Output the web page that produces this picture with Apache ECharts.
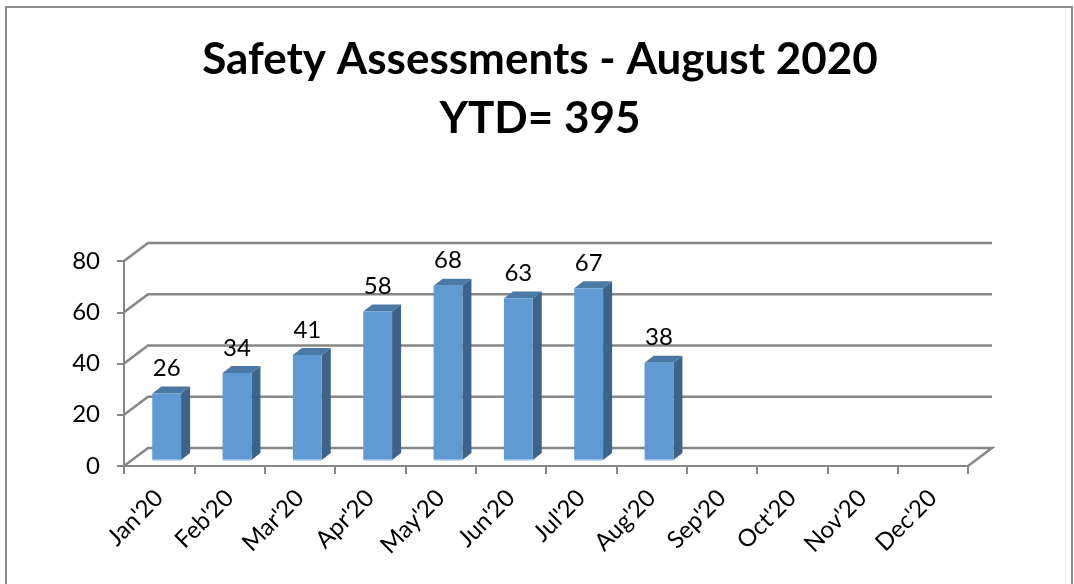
<!DOCTYPE html>
<html>
<head>
<meta charset="utf-8">
<style>
  html, body { margin: 0; padding: 0; background: #fff; overflow: hidden; }
  #chart { width: 1074px; height: 584px; }
</style>
<script src="https://cdn.jsdelivr.net/npm/echarts@6/dist/echarts.min.js"></script>
</head>
<body>
<div id="chart"></div>
<script>
const categories = ["Jan'20", "Feb'20", "Mar'20", "Apr'20", "May'20", "Jun'20", "Jul'20", "Aug'20", "Sep'20", "Oct'20", "Nov'20", "Dec'20"];
const assessments = [26, 34, 41, 58, 68, 63, 67, 38];
const yTicks = [0, 20, 40, 60, 80];
const titleText = "Safety Assessments - August 2020\nYTD= 395";

const lineColor = "#868686";
const fontName = "Lato";
// fake 3d depth of the back wall and of the bars
const wallDx = 24, wallDy = -18;
const barDx = 9, barDy = -7;
const barShiftX = 7.5, barShiftY = -6;

function renderWall(params, api) {
  const rect = params.coordSys;
  const y = api.coord([0, api.value(0)])[1];
  const x0 = rect.x, x1 = rect.x + rect.width;
  const points = [[x0, y], [x0 + wallDx, y + wallDy], [x1 + wallDx, y + wallDy]];
  if (api.value(0) === 0) points.push([x1, y]);
  return {
    type: "polyline",
    shape: { points: points },
    style: { stroke: lineColor, lineWidth: 2.5, fill: "none" },
    silent: true
  };
}

function renderBar(params, api) {
  const c = api.coord([api.value(0), api.value(1)]);
  const base = api.coord([api.value(0), 0]);
  const w = api.size([1, 0])[0] * 0.41;
  const l = c[0] + barShiftX - w / 2, r = l + w;
  const t = c[1] + barShiftY, b = base[1] + barShiftY;
  return {
    type: "group",
    children: [
      {
        type: "polygon",
        shape: { points: [[r, t], [r + barDx, t + barDy], [r + barDx, b + barDy], [r, b]] },
        style: { fill: "#3d6389" }
      },
      {
        type: "polygon",
        shape: { points: [[l, t], [r, t], [r + barDx, t + barDy], [l + barDx, t + barDy]] },
        style: { fill: "#4a79a6" }
      },
      {
        type: "rect",
        shape: { x: l, y: t, width: w, height: b - t },
        style: { fill: "#5f9bd2" }
      },
      {
        type: "line",
        shape: { x1: l, y1: b, x2: r, y2: b },
        style: { stroke: "#a9cdee", lineWidth: 1.5 }
      },
      {
        type: "text",
        style: {
          x: (l + r) / 2, y: t - 25,
          text: String(api.value(1)),
          fill: "#000", font: "24px " + fontName,
          align: "center", verticalAlign: "middle"
        }
      }
    ]
  };
}

const chart = echarts.init(document.getElementById("chart"), null, { renderer: "canvas" });
chart.setOption({
  animation: false,
  backgroundColor: "#fff",
  title: {
    text: titleText,
    left: 535,
    top: 25,
    textAlign: "center",
    textStyle: { fontFamily: fontName, fontWeight: "bold", fontSize: 44, lineHeight: 59, color: "#000" }
  },
  graphic: [{
    type: "rect",
    shape: { x: 6, y: 7, width: 1066, height: 600 },
    style: { fill: "none", stroke: "#8c8c8c", lineWidth: 2 },
    silent: true
  }],
  grid: { left: 124, top: 261, width: 844, height: 205 },
  xAxis: {
    type: "category",
    data: categories,
    axisLine: { lineStyle: { color: lineColor, width: 2 } },
    axisTick: { show: true, length: 8, lineStyle: { color: lineColor, width: 2 } },
    axisLabel: {
      rotate: 45, interval: 0, margin: 28,
      fontFamily: fontName, fontSize: 24, color: "#000"
    },
    splitLine: { show: false }
  },
  yAxis: {
    type: "value",
    min: 0,
    max: 80,
    interval: 20,
    axisLine: { show: true, lineStyle: { color: lineColor, width: 2 } },
    axisTick: { show: true, length: 7, lineStyle: { color: lineColor, width: 2 } },
    axisLabel: { margin: 24, padding: [8, 0, 0, 0], fontFamily: fontName, fontSize: 24, color: "#000" },
    splitLine: { show: false }
  },
  series: [
    {
      type: "custom",
      renderItem: renderWall,
      data: yTicks.map(v => [v]),
      encode: { y: 0 },
      silent: true,
      z: 1
    },
    {
      type: "custom",
      renderItem: renderBar,
      data: assessments.map((v, i) => [i, v]),
      encode: { x: 0, y: 1 },
      z: 3
    }
  ]
});
</script>
</body>
</html>
